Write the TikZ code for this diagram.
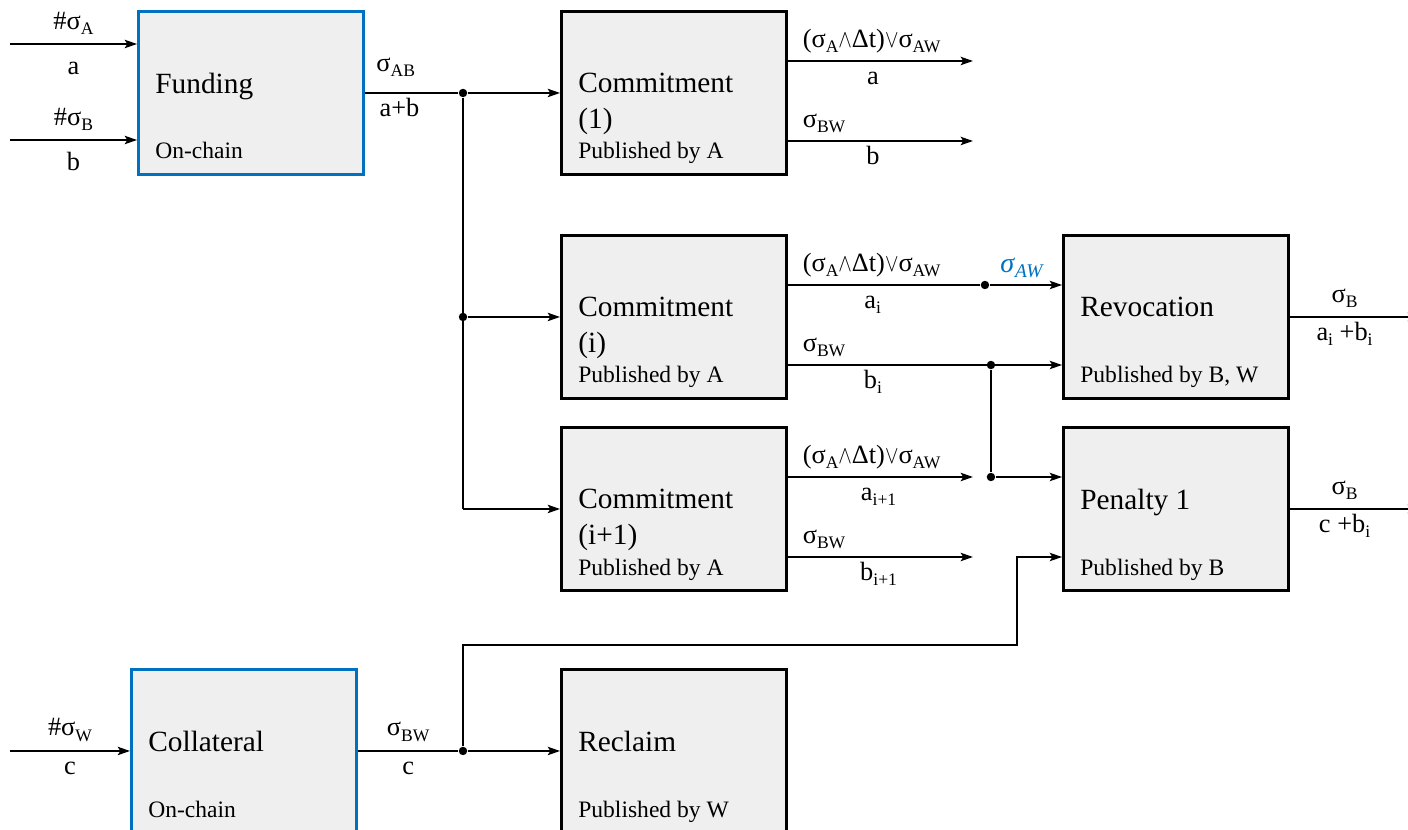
\documentclass[tikz,border=0pt]{standalone}
\usepackage{fontspec}
\setmainfont{Liberation Serif}
\usetikzlibrary{calc,arrows.meta}
\definecolor{chainblue}{RGB}{0,112,192}
\definecolor{boxgray}{RGB}{239,239,239}
\newcommand\sub[1]{\raisebox{-3pt}{\fontsize{10}{12}\selectfont #1}}
\newcommand\andsym{\scalebox{0.8}[1]{\fontsize{14}{16}\selectfont$\wedge$}}
\newcommand\orsym{\scalebox{0.8}[1]{\fontsize{14}{16}\selectfont$\vee$}}
\newcommand\Block[5][stdbox]{%
  \node[#1] (#2) at #3 {};
  \node[boxtitle] (#2-t) at ($(#2.north west)+(18,63)$) {#4};
  \node[boxsub] (#2-s) at ($(#2.north west)+(18,149)$) {#5};
  % ports on the sides
  \coordinate (#2-e1) at ($(#2.north east)+(0,51)$);
  \coordinate (#2-e2) at ($(#2.north east)+(0,131)$);
  \coordinate (#2-w1) at ($(#2.north west)+(0,51)$);
  \coordinate (#2-w2) at ($(#2.north west)+(0,131)$);
}
\tikzset{%
  >={Stealth[length=7pt,width=4.8pt,inset=1.5pt]},
  stdbox/.style={draw, line width=1.7pt, fill=boxgray, anchor=north west,
    minimum width=4.5cm, minimum height=3.26cm, inner sep=0pt},
  chainbox/.style={stdbox, draw=chainblue},
  boxtitle/.style={anchor=north west, align=left, inner sep=0pt,
    font=\fontsize{16.7}{20.5}\selectfont},
  boxsub/.style={anchor=base west, inner sep=0pt,
    font=\fontsize{13.4}{16}\selectfont},
  wire/.style={line width=0.9pt},
  flow/.style={wire, ->},
  junct/.style={circle, fill, inner sep=0pt, minimum size=4.8pt},
  lup/.style={above, inner sep=5pt, font=\fontsize{15}{18}\selectfont},
  lupl/.style={lup, pos=0, anchor=south west, xshift=4pt, inner sep=4pt},
  ldown/.style={below, inner sep=2.5pt, text height=10.3pt,
    font=\fontsize{15}{18}\selectfont},
  ldownfar/.style={ldown, inner sep=6.5pt}
}
\begin{document}
\begin{tikzpicture}[x=0.02cm, y=-0.02cm]
\useasboundingbox (0,0) rectangle (1408,830);

%% blocks

\Block[chainbox]{fund}{(137,10)}{Funding}{On-chain}
\Block{com1}{(560,10)}{Commitment\\(1)}{Published by A}
\Block{comi}{(560,234)}{Commitment\\(i)}{Published by A}
\Block{comn}{(560,426)}{Commitment\\(i+1)}{Published by A}
\Block{revo}{(1062,234)}{Revocation}{Published by B, W}
\Block{pen}{(1062,426)}{Penalty 1}{Published by B}
\Block[chainbox]{coll}{(130,668)}{Collateral}{On-chain}
\Block{recl}{(560,668)}{Reclaim}{Published by W}

%% free ends and junctions

\coordinate (fund-a) at ($(fund.north west)+(0,34)$);
\coordinate (fund-b) at ($(fund.north west)+(0,130)$);
\coordinate (inA) at (10,0 |- fund-a);
\coordinate (inB) at (10,0 |- fund-b);
\coordinate (inW) at (10,0 |- coll.west);
\node[junct] (jf) at (463,0 |- fund.east) {};
\node[junct] (jfi) at (jf |- comi.west) {};
\coordinate (jfn) at (jf |- comn.west);
\node[junct] (jc) at (jf |- coll.east) {};
\node[junct] (ja) at ($(comi-e1)+(197,0)$) {};
\node[junct] (jb) at ($(comi-e2)+(203,0)$) {};
\node[junct] (jp) at (jb |- pen-w1) {};
\coordinate (lift) at (1017,645);
\coordinate (o1a) at ($(com1-e1)+(185,0)$);
\coordinate (o1b) at ($(com1-e2)+(185,0)$);
\coordinate (ona) at ($(comn-e1)+(185,0)$);
\coordinate (onb) at ($(comn-e2)+(185,0)$);
\coordinate (outR) at ($(revo.east)+(130,0)$);
\coordinate (outP) at ($(pen.east)+(130,0)$);

%% funding and fan-out

\draw[flow] (inA) -- node[lup]{\#σ\sub{A}} node[ldownfar]{a} (fund-a);
\draw[flow] (inB) -- node[lup]{\#σ\sub{B}} node[ldownfar]{b} (fund-b);
\draw[wire] (fund.east) -- node[lup,pos=0.33,yshift=4pt]{σ\sub{AB}}
    node[ldown,pos=0.37]{a+b} (jf);
\draw[flow] (jf) -- (com1.west);
\draw[wire] (jf) -- (jfn);
\draw[flow] (jfi) -- (comi.west);
\draw[flow] (jfn) -- (comn.west);

%% commitment outputs

\draw[flow] (com1-e1) -- node[lupl]{(σ\sub{A}\andsym Δt)\orsym σ\sub{AW}}
    node[ldown,pos=0.46]{a} (o1a);
\draw[flow] (com1-e2) -- node[lupl]{σ\sub{BW}} node[ldown,pos=0.46]{b} (o1b);
\draw[wire] (comi-e1) -- node[lupl]{(σ\sub{A}\andsym Δt)\orsym σ\sub{AW}}
    node[ldown,pos=0.44]{a\sub{i}} (ja);
\draw[flow] (ja) -- node[lup,inner sep=3.5pt,pos=0.45,text=chainblue,font=\fontsize{16}{19}\selectfont]
    {\textit{σ}\raisebox{-3pt}{\fontsize{11}{13}\selectfont\textit{AW}}} (revo-w1);
\draw[flow] (comi-e2) -- node[lupl]{σ\sub{BW}} node[ldown,pos=0.31]{b\sub{i}} (revo-w2);
\draw[wire] (jb) -- (jp);
\draw[flow] (jp) -- (pen-w1);
\draw[flow] (comn-e1) -- node[lupl]{(σ\sub{A}\andsym Δt)\orsym σ\sub{AW}}
    node[ldown,pos=0.49]{a\sub{i+1}} (ona);
\draw[flow] (comn-e2) -- node[lupl]{σ\sub{BW}} node[ldown,pos=0.49]{b\sub{i+1}} (onb);

%% collateral

\draw[flow] (inW) -- node[lup]{\#σ\sub{W}} node[ldown]{c} (coll.west);
\draw[wire] (coll.east) -- node[lup]{σ\sub{BW}} node[ldown]{c} (jc);
\draw[flow] (jc) -- (recl.west);
\draw[flow] (jc) |- (lift) |- (pen-w2);

%% outputs at the right edge

\draw[flow] (revo.east) -- node[lup,pos=0.42]{σ\sub{B}}
    node[ldown,pos=0.42]{a\sub{i} +b\sub{i}} (outR);
\draw[flow] (pen.east) -- node[lup,pos=0.42]{σ\sub{B}}
    node[ldown,pos=0.42]{c +b\sub{i}} (outP);

\end{tikzpicture}
\end{document}
